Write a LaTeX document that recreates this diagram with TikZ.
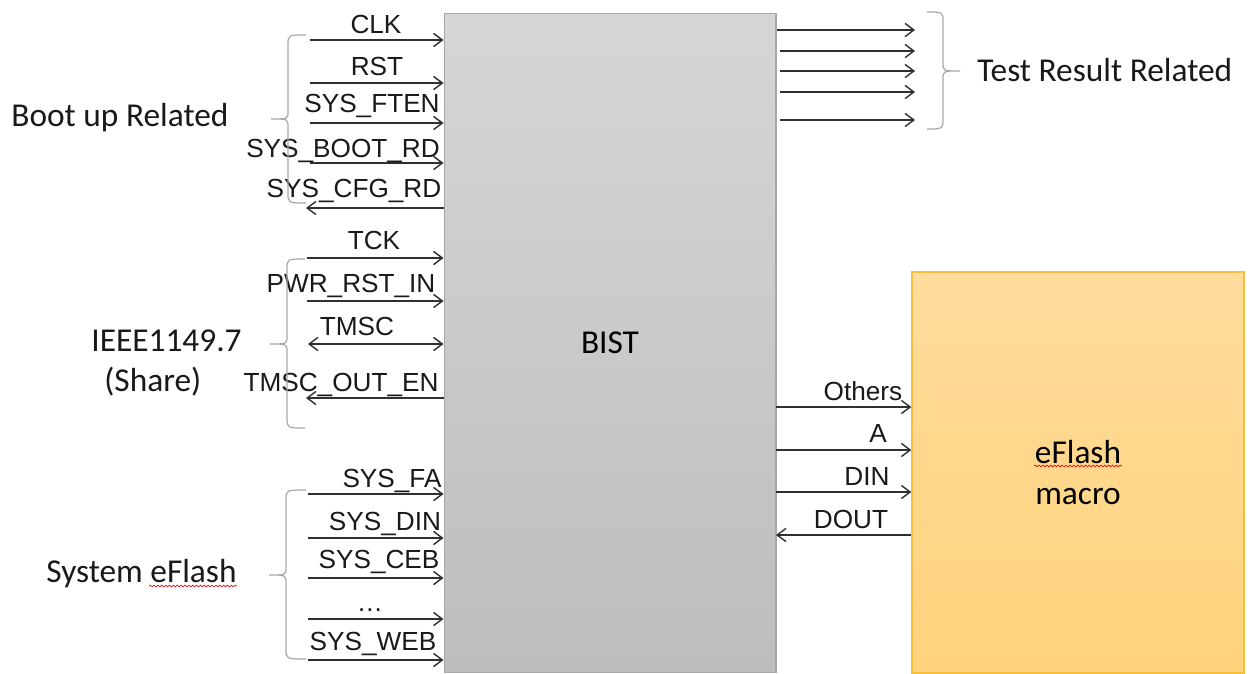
\documentclass[tikz,border=0pt]{standalone}
\usepackage{fontspec}
\setmainfont{Liberation Sans}
\newfontfamily\calfont{Carlito}
\usetikzlibrary{arrows.meta,decorations.pathmorphing}
\definecolor{bistfillA}{HTML}{D6D6D6}
\definecolor{bistfillB}{HTML}{BDBDBD}
\definecolor{bistdraw}{HTML}{A6A6A6}
\definecolor{eftop}{HTML}{FFDC9C}
\definecolor{efbot}{HTML}{FFD37C}
\definecolor{efdraw}{HTML}{F5C040}
\definecolor{bracecol}{HTML}{A8A8A8}
\definecolor{wirecol}{HTML}{303030}
\newcommand\bracel[5]{% #1 end x, #2 vertical x, #3 top y, #4 tip y, #5 bottom y
  \draw[bracestyle] (#1,#3) .. controls (#2,#3) .. (#2,#3+10) -- (#2,#4-8)
    .. controls (#2,#4) .. (#2-17,#4) .. controls (#2,#4) .. (#2,#4+8)
    -- (#2,#5-10) .. controls (#2,#5) .. (#1,#5);}
\begin{document}
\begin{tikzpicture}[x=0.02cm,y=-0.02cm,
  sig/.style={font=\fontsize{14.9pt}{17pt}\selectfont, inner sep=0pt, anchor=base, text=black!90},
  grp/.style={font=\calfont\fontsize{19pt}{23.8pt}\selectfont, inner sep=0pt, text=black!90},
  wire/.style={draw=wirecol, line width=0.8pt, -{Straight Barb[length=5pt,width=7.5pt,line width=0.8pt]}},
  wireboth/.style={draw=wirecol, line width=0.8pt, {Straight Barb[length=5pt,width=7.5pt,line width=0.8pt]}-{Straight Barb[length=5pt,width=7.5pt,line width=0.8pt]}},
  bracestyle/.style={draw=bracecol, line width=0.7pt},
  squig/.style={draw=red!85!black, line width=0.35pt, decorate, decoration={snake, amplitude=0.5pt, segment length=2.2pt}}
]
\fill[white] (0,0) rectangle (1251,673);
\useasboundingbox (0,0) rectangle (1251,673);

% blocks
\node[draw=bistdraw, line width=0.6pt, top color=bistfillA, bottom color=bistfillB,
      minimum width=6.64cm, minimum height=13.2cm, inner sep=0pt,
      font=\calfont\fontsize{19pt}{22pt}\selectfont] (bist) at (610,343) {BIST};
\node[draw=efdraw, line width=0.8pt, top color=eftop, bottom color=efbot,
      minimum width=6.64cm, minimum height=8.02cm, inner sep=0pt, align=center,
      font=\calfont\fontsize{19pt}{23.8pt}\selectfont] (ef) at (1078,472.5) {eFlash\\macro};
\draw[squig] (1034,466) -- (1122,466);

% left inputs: boot up
\coordinate (cCLK) at (310,40);
\coordinate (cRST) at (310,83);
\coordinate (cFTEN) at (310,123);
\coordinate (cBOOT) at (310,163);
\coordinate (cCFG) at (306,208);
\draw[wire] (cCLK) -- (cCLK -| bist.west);
\draw[wire] (cRST) -- (cRST -| bist.west);
\draw[wire] (cFTEN) -- (cFTEN -| bist.west);
\draw[wire] (cBOOT) -- (cBOOT -| bist.west);
\draw[wire] (cCFG -| bist.west) -- (cCFG);
\node[sig] (lCLK) at (376,33) {CLK};
\node[sig] (lRST) at (377,75) {RST};
\node[sig] (lFTEN) at (372,112) {SYS\_FTEN};
\node[sig] (lBOOT) at (343,157) {SYS\_BOOT\_RD};
\node[sig] (lCFG) at (354,197) {SYS\_CFG\_RD};
\bracel{306}{288}{35}{119}{203}
\node[grp, anchor=base west] (gBoot) at (11,126) {Boot up Related};

% IEEE 1149.7
\coordinate (cTCK) at (307,258);
\coordinate (cPWR) at (307,301);
\coordinate (cTMSC) at (308,344);
\coordinate (cTOE) at (306,398);
\draw[wire] (cTCK) -- (cTCK -| bist.west);
\draw[wire] (cPWR) -- (cPWR -| bist.west);
\draw[wireboth] (cTMSC) -- (cTMSC -| bist.west);
\draw[wire] (cTOE -| bist.west) -- (cTOE);
\node[sig] (lTCK) at (374,249) {TCK};
\node[sig] (lPWR) at (351,292) {PWR\_RST\_IN};
\node[sig] (lTMSC) at (357,335) {TMSC};
\node[sig] (lTOE) at (341,391) {TMSC\_OUT\_EN};
\bracel{305}{287}{259}{344}{428}
\node[grp, anchor=base west] (gIEEE) at (91,351) {IEEE1149.7};
\node[grp, anchor=base west] (gShare) at (104,391) {(Share)};

% System eFlash
\coordinate (cFA) at (308,494);
\coordinate (cDIN) at (308,538);
\coordinate (cCEB) at (308,578);
\coordinate (cDOT) at (308,619);
\coordinate (cWEB) at (308,660);
\draw[wire] (cFA) -- (cFA -| bist.west);
\draw[wire] (cDIN) -- (cDIN -| bist.west);
\draw[wire] (cCEB) -- (cCEB -| bist.west);
\draw[wire] (cDOT) -- (cDOT -| bist.west);
\draw[wire] (cWEB) -- (cWEB -| bist.west);
\node[sig] (lFA) at (392,487) {SYS\_FA};
\node[sig] (lDIN) at (385,530) {SYS\_DIN};
\node[sig] (lCEB) at (379,568) {SYS\_CEB};
\node[sig] (lDOT) at (370,611) {\dots};
\node[sig] (lWEB) at (373,650) {SYS\_WEB};
\bracel{306}{286}{490}{575}{659}
\node[grp, anchor=base west] (gSys) at (46,582) {System eFlash};
\draw[squig] (149,586) -- (237,586);

% test result outputs
\coordinate (tA) at (915,30);
\coordinate (tB) at (915,51);
\coordinate (tC) at (915,71);
\coordinate (tD) at (915,92);
\coordinate (tE) at (915,120);
\draw[wire] (tA -| bist.east) -- (tA);
\draw[wire] (780,51) -- (tB);
\draw[wire] (780,71) -- (tC);
\draw[wire] (780,92) -- (tD);
\draw[wire] (780,120) -- (tE);
\draw[bracestyle] (927,12) .. controls (943,12) .. (943,22) -- (943,63)
  .. controls (943,71) .. (960,71) .. controls (943,71) .. (943,79)
  -- (943,118) .. controls (943,129) .. (927,129);
\node[grp, anchor=base west] (gTest) at (977,81) {Test Result Related};

% BIST <-> eFlash
\coordinate (eO) at (776,407);
\coordinate (eA) at (776,450);
\coordinate (eD) at (776,492);
\coordinate (eQ) at (776,535);
\draw[wire] (eO) -- (eO -| ef.west);
\draw[wire] (eA) -- (eA -| ef.west);
\draw[wire] (eD) -- (eD -| ef.west);
\draw[wire] (eQ -| ef.west) -- (eQ);
\node[sig] (lO) at (863,400) {Others};
\node[sig] (lA) at (878,442) {A};
\node[sig] (lD) at (867,485) {DIN};
\node[sig] (lQ) at (851,528) {DOUT};
\end{tikzpicture}
\end{document}
